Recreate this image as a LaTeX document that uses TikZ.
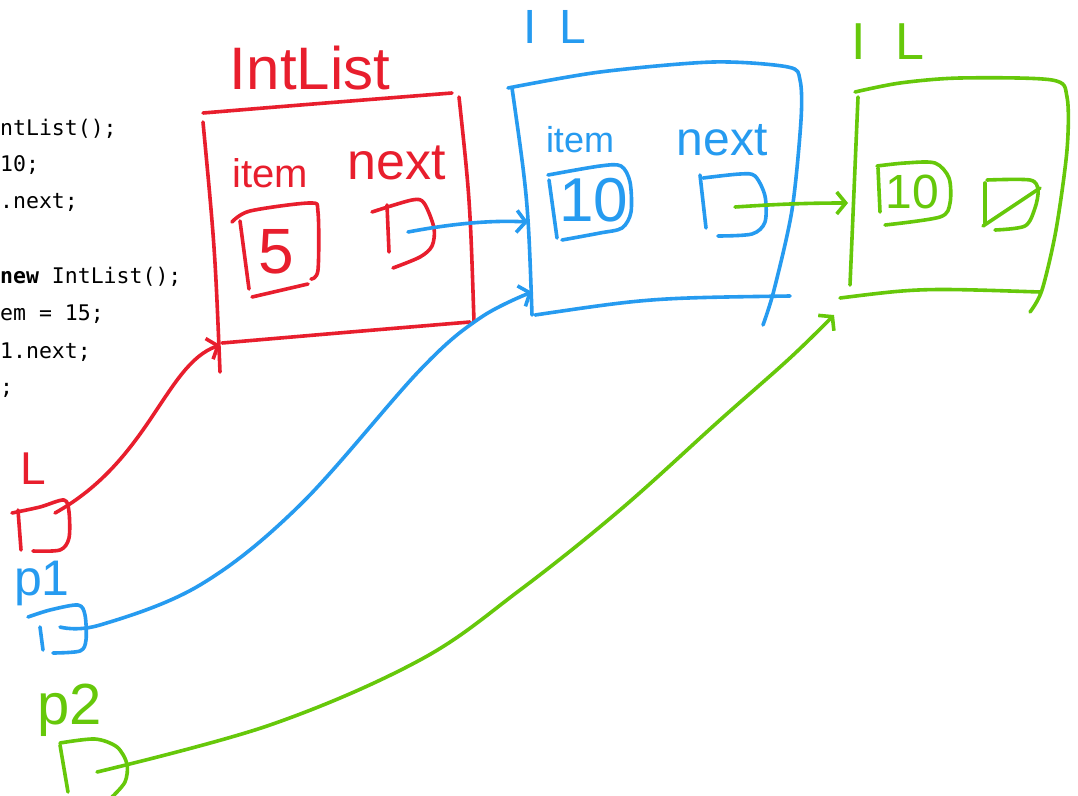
\documentclass[tikz,border=0pt]{standalone}
\usepackage{fontspec}
\setmonofont{DejaVu Sans Mono}
\newfontfamily\handfont{Liberation Sans}
\usepackage{tikz}
\usetikzlibrary{arrows.meta}
\definecolor{inkred}{RGB}{232, 30, 45}
\definecolor{inkblue}{RGB}{38, 155, 240}
\definecolor{inkgreen}{RGB}{102, 200, 10}

\tikzset{
  ink/.style={line width=3.6pt, line cap=round, line join=round},
  barb/.style={-{Straight Barb[length=9pt,width=22pt]}},
  hand/.style={font=\handfont\fontsize{#1}{#1}\selectfont, inner sep=0pt},
  code/.style={font=\ttfamily\fontsize{21.5}{21.5}\selectfont, anchor=base west, inner sep=0pt},
}

\begin{document}
\begin{tikzpicture}[x=1pt, y=-1pt]
    \fill[white] (0,0) rectangle (1078,795);
    \useasboundingbox (0,0) rectangle (1078,795);

    % Code listing on the left
    \node[code] (c1) at (0,135) {ntList();};
    \node[code] (c2) at (0,171) {10;};
    \node[code] (c3) at (0,208) {.next;};
    \node[code] (c4) at (0,283) {\textbf{new} IntList();};
    \node[code] (c5) at (0,320) {em = 15;};
    \node[code] (c6) at (0,358) {1.next;};
    \node[code] (c7) at (0,394) {;};

    % Red IntList object
    \begin{scope}[ink, inkred]
        \node[hand=60, text=inkred] (redtitle) at (310,68) {IntList};
        \draw (203,113) .. controls (300,105) .. (452,93);
        \draw (459,97) .. controls (470,200) .. (474,322);
        \draw (222,343) .. controls (350,332) .. (470,322);
        \draw (203,122) .. controls (215,250) .. (220,372);
        % item field
        \node[hand=40, text=inkred] (reditem) at (270,173) {item};
        \draw plot[smooth, tension=0.5] coordinates {(232,222) (250,211) (310,203) (318,212) (318,270) (311,279)};
        \draw (252,297) -- (308,284);
        \draw (240,221) -- (249,289);
        \node[hand=64, text=inkred] (redval) at (276,252) {5};
        % next field
        \node[hand=52, text=inkred] (rednextlbl) at (397,163) {next};
        \draw (387,205) -- (389,252);
        \draw plot[smooth, tension=0.5] coordinates {(372,212) (412,200) (424,203) (434,228) (432,246) (420,257) (393,268)};
        \coordinate (rednext) at (408,232);
        \coordinate (redin) at (220,345);
    \end{scope}

    % Blue IL object
    \begin{scope}[ink, inkblue]
        \node[hand=48, text=inkblue] (bluetitle) at (555,27) {I\hspace{22pt}L};
        \draw plot[smooth, tension=0.5] coordinates {(508,88) (600,72) (713,62) (788,67) (800,80) (801,120) (792,210) (774,290) (763,325)};
        \draw (512,88) .. controls (528,200) .. (532,315);
        \draw (535,315) .. controls (650,298) .. (790,296);
        % item field
        \node[hand=36, text=inkblue] (blueitem) at (580,140) {item};
        \draw plot[smooth, tension=0.5] coordinates {(548,175) (600,166) (621,166) (630,182) (631,212) (622,228) (600,233) (562,240)};
        \draw (549,180) -- (557,238);
        \node[hand=62, text=inkblue] (blueval) at (594,200) {10};
        % next field
        \node[hand=48, text=inkblue] (bluenextlbl) at (722,140) {next};
        \draw (700,175) -- (706,228);
        \draw plot[smooth, tension=0.5] coordinates {(703,178) (740,174) (755,176) (765,196) (765,222) (752,234) (718,236)};
        \coordinate (bluenext) at (735,207);
        \coordinate (bluein1) at (528,222);
        \coordinate (bluein2) at (532,292);
    \end{scope}

    % Green IL object
    \begin{scope}[ink, inkgreen]
        \node[hand=52, text=inkgreen] (greentitle) at (888,42) {I\hspace{30pt}L};
        \draw plot[smooth, tension=0.5] coordinates {(855,92) (900,83) (960,78) (1052,80) (1067,97) (1067,150) (1056,230) (1042,290) (1030,312)};
        \draw (858,97) -- (850,285);
        \draw (840,298) .. controls (920,288) .. (1040,292);
        % item field
        \draw plot[smooth, tension=0.5] coordinates {(877,166) (905,163) (935,163) (949,178) (950,203) (940,217) (885,225)};
        \draw (878,168) -- (880,212);
        \node[hand=48, text=inkgreen] (greenval) at (912,192) {10};
        % next field, null
        \draw (985,183) -- (985,223);
        \draw plot[smooth, tension=0.5] coordinates {(987,180) (1030,180) (1038,190) (1035,208) (1025,226) (995,230)};
        \draw (983,226) -- (1040,188);
        \coordinate (greenin1) at (848,203);
        \coordinate (greenin2) at (834,315);
    \end{scope}

    % Variables
    \node[hand=46, text=inkred] (varL) at (33,469) {L};
    \node[hand=50, text=inkblue] (varp1) at (42,583) {p1};
    \node[hand=58, text=inkgreen] (varp2) at (70,710) {p2};
    \begin{scope}[ink]
        \draw[inkred] (18,510) -- (21,550);
        \draw[inkred] plot[smooth, tension=0.5] coordinates {(12,513) (40,507) (64,500) (69,512) (69,538) (60,550) (33,551)};
        \coordinate (Lsrc) at (55,513);
        \draw[inkblue] (40,627) -- (43,650);
        \draw[inkblue] plot[smooth, tension=0.5] coordinates {(28,617) (50,610) (78,605) (85,615) (86,640) (80,651) (53,653)};
        \coordinate (p1src) at (60,627);
        \draw[inkgreen] (60,745) -- (68,792);
        \draw[inkgreen] plot[smooth, tension=0.5] coordinates {(60,743) (95,739) (117,747) (127,764) (125,782) (112,797)};
        \coordinate (p2src) at (97,772);
    \end{scope}

    % Pointers
    \draw[ink, barb, inkred] (Lsrc) .. controls (150,460) and (165,365) .. (redin);
    \draw[ink, barb, inkblue] (rednext) .. controls (450,224) and (490,220) .. (bluein1);
    \draw[ink, barb, inkblue] plot[smooth, tension=0.6] coordinates {(p1src) (100,625) (200,585) (300,505) (420,370) (480,318) (bluein2)};
    \draw[ink, barb, inkgreen] (bluenext) .. controls (780,204) and (810,203) .. (greenin1);
    \draw[ink, barb, inkgreen] plot[smooth, tension=0.6] coordinates {(p2src) (270,725) (420,660) (520,590) (620,510) (720,420) (790,358) (greenin2)};
\end{tikzpicture}
\end{document}
